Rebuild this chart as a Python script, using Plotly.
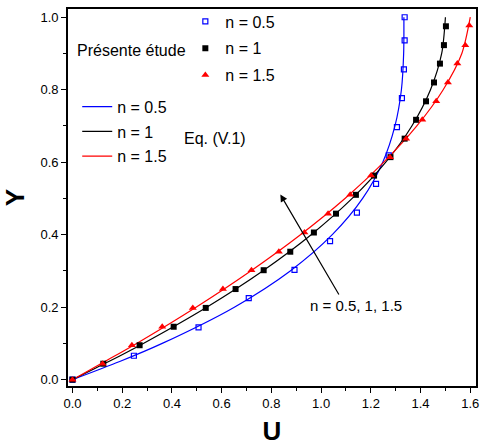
import plotly.graph_objects as go

# Présente étude: discrete points for each flow index n
u_n05 = [0.0, 0.247, 0.507, 0.709, 0.893, 1.036, 1.144, 1.221, 1.272, 1.305, 1.325, 1.333, 1.336, 1.336]
y_n05 = [0.0, 0.066, 0.144, 0.225, 0.303, 0.382, 0.461, 0.540, 0.619, 0.697, 0.777, 0.856, 0.936, 1.0]

u_n1 = [0.0, 0.124, 0.270, 0.407, 0.536, 0.656, 0.769, 0.876, 0.971, 1.060, 1.140,
        1.213, 1.279, 1.336, 1.382, 1.422, 1.454, 1.478, 1.494, 1.502]
y_n1 = [0.0, 0.044, 0.095, 0.146, 0.198, 0.250, 0.302, 0.353, 0.406, 0.458, 0.510,
        0.563, 0.614, 0.665, 0.717, 0.768, 0.820, 0.872, 0.923, 0.975]

u_n15 = [0.0, 0.121, 0.239, 0.361, 0.484, 0.605, 0.720, 0.830, 0.933, 1.028, 1.117,
         1.201, 1.277, 1.342, 1.407, 1.463, 1.510, 1.548, 1.580, 1.596]
y_n15 = [0.0, 0.044, 0.095, 0.146, 0.198, 0.250, 0.302, 0.353, 0.406, 0.458, 0.510,
         0.563, 0.614, 0.665, 0.717, 0.768, 0.820, 0.872, 0.923, 0.977]

# Eq. (V.1): continuous profiles
y_eq = [0.0, 0.05, 0.1, 0.2, 0.3, 0.4, 0.5, 0.6, 0.7, 0.8, 0.9, 1.0]
u_eq_n05 = [0.0, 0.190, 0.361, 0.651, 0.876, 1.045, 1.167, 1.248, 1.297, 1.323, 1.332, 1.333]
u_eq_n1 = [0.0, 0.146, 0.285, 0.540, 0.765, 0.960, 1.125, 1.260, 1.365, 1.440, 1.485, 1.500]
u_eq_n15 = [0.0, 0.130, 0.258, 0.497, 0.717, 0.917, 1.096, 1.252, 1.385, 1.491, 1.566, 1.600]

labels = ["n = 0.5", "n = 1", "n = 1.5"]
colors = ["#0000FF", "#000000", "#FF0000"]

FONT = "Liberation Sans, Arial, sans-serif"

fig = go.Figure()

# fitted curves (second legend)
for u, lab, col in zip([u_eq_n05, u_eq_n1, u_eq_n15], labels, colors):
    fig.add_trace(go.Scatter(
        x=u, y=y_eq, mode="lines", name=lab, legend="legend2", legendgroup="eq " + lab,
        line=dict(color=col, width=1.2, shape="spline", smoothing=0.8),
    ))

# computed points (first legend)
markers = [
    dict(symbol="square-open", size=5, color="#0000FF", line=dict(width=1.2, color="#0000FF")),
    dict(symbol="square", size=6, color="#000000"),
    dict(symbol="triangle-up", size=7, color="#FF0000"),
]
for u, y, lab, mk in zip([u_n05, u_n1, u_n15], [y_n05, y_n1, y_n15], labels, markers):
    fig.add_trace(go.Scatter(
        x=u, y=y, mode="markers", name=lab, legend="legend", legendgroup=lab,
        marker=mk,
    ))

axis_common = dict(
    showgrid=False, zeroline=False, showline=True, linecolor="black", linewidth=1.6,
    mirror=True, ticks="outside", ticklen=5, tickwidth=1, tickcolor="black",
    tickfont=dict(family=FONT, size=13, color="black"),
    minor=dict(ticks="outside", ticklen=3, tickwidth=1, tickcolor="black", dtick=0.1),
)

fig.update_layout(
    width=483, height=446,
    margin=dict(l=68, r=4, t=6, b=60),
    paper_bgcolor="white", plot_bgcolor="white",
    xaxis=dict(range=[-0.018, 1.623], dtick=0.2, tick0=0, tickformat=".1f",
               title=dict(text="<b>U</b>", font=dict(family=FONT, size=26, color="black"), standoff=12),
               **axis_common),
    yaxis=dict(range=[-0.0175, 1.0227], dtick=0.2, tick0=0, tickformat=".1f",
               title=dict(text="<b>Y</b>", font=dict(family=FONT, size=26, color="black"), standoff=10),
               **axis_common),
    legend=dict(x=0.2876, y=1.012, xanchor="left", yanchor="top",
                bgcolor="rgba(0,0,0,0)", tracegroupgap=3,
                font=dict(family=FONT, size=16, color="black")),
    legend2=dict(x=0.0226, y=0.786, xanchor="left", yanchor="top",
                 bgcolor="rgba(0,0,0,0)", tracegroupgap=1,
                 font=dict(family=FONT, size=16, color="black")),
    annotations=[
        dict(text="Présente étude", xref="paper", yref="paper", x=0.0177, y=0.889,
             xanchor="left", yanchor="middle", showarrow=False,
             font=dict(family=FONT, size=16, color="black")),
        dict(text="Eq. (V.1)", xref="paper", yref="paper", x=0.2805, y=0.6576,
             xanchor="left", yanchor="middle", showarrow=False,
             font=dict(family=FONT, size=16, color="black")),
        # arrow showing the direction of increasing n
        dict(x=0.836, y=0.511, ax=1.075, ay=0.231, xref="x", yref="y", axref="x", ayref="y",
             text="", showarrow=True, arrowhead=2, arrowsize=1.2, arrowwidth=1.2, arrowcolor="black"),
        dict(text="n = 0.5, 1, 1.5", x=1.139, y=0.206, xref="x", yref="y",
             showarrow=False, font=dict(family=FONT, size=15, color="black")),
    ],
)

fig.write_html("out.html")
